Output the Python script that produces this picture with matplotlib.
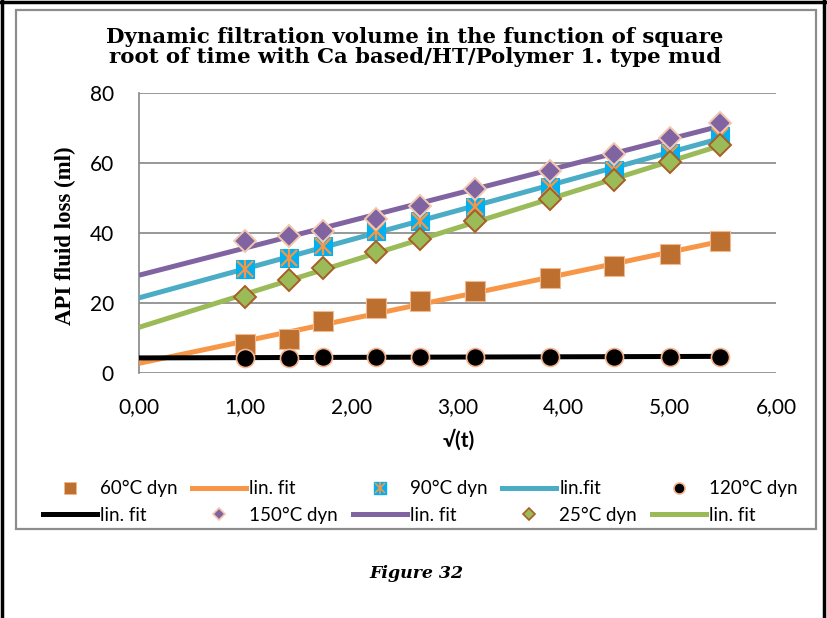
import numpy as np
import matplotlib
matplotlib.use("Agg")
import matplotlib.pyplot as plt
from matplotlib.lines import Line2D
from matplotlib.patches import Rectangle
from matplotlib.legend_handler import HandlerTuple

# ---------------- data ----------------
sqrt_t = [1.0, 1.414, 1.732, 2.236, 2.646, 3.162, 3.873, 4.472, 5.0, 5.477]
dyn_60 = [8.3, 9.7, 14.9, 18.5, 20.7, 23.3, 27.1, 30.7, 34.0, 37.6]
dyn_90 = [29.7, 33.0, 36.2, 40.7, 43.5, 47.5, 53.2, 58.0, 63.0, 67.8]
dyn_120 = [4.3, 4.4, 4.5, 4.5, 4.6, 4.6, 4.6, 4.7, 4.7, 4.7]
dyn_150 = [37.8, 39.2, 40.5, 44.0, 47.8, 52.6, 57.6, 62.7, 67.1, 71.4]
dyn_25 = [21.6, 26.7, 29.9, 34.5, 38.3, 43.5, 49.6, 55.2, 60.2, 65.1]
xticks = [0, 1, 2, 3, 4, 5, 6]
xtick_labels = ["0,00", "1,00", "2,00", "3,00", "4,00", "5,00", "6,00"]
yticks = [0, 20, 40, 60, 80]
title = "Dynamic filtration volume in the function of square\nroot of time with Ca based/HT/Polymer 1. type mud"
ylabel = "API fluid loss (ml)"
xlabel = "√(t)"
caption = "Figure 32"
labels = ["60°C dyn", "lin. fit", "90°C dyn", "lin.fit", "120°C dyn",
          "lin. fit", "150°C dyn", "lin. fit", "25°C dyn", "lin. fit"]

W, H = 827, 618
fig = plt.figure(figsize=(W / 100, H / 100), dpi=100)
ax = fig.add_axes([139 / W, 1 - 373 / H, (776 - 139) / W, (373 - 93) / H])

x = np.array(sqrt_t)
grid_c = "#868686"
lw_fit = 3.6

def fit_line(y, color):
    k, b = np.polyfit(x, np.array(y), 1)
    xx = np.array([0.0, x.max()])
    return ax.plot(xx, k * xx + b, color=color, lw=lw_fit, solid_capstyle="butt", zorder=3)[0]

# fits
fit_line(dyn_60, "#F79646")
fit_line(dyn_90, "#4BACC6")
fit_line(dyn_120, "#000000")
fit_line(dyn_150, "#8064A2")
fit_line(dyn_25, "#9BBB59")

# markers
ax.plot(x, dyn_60, ls="none", marker="s", ms=14.5, mfc="#BC6F2F", mec="#F2B98E", mew=0.8, zorder=5)
ax.plot(x, dyn_90, ls="none", marker="s", ms=13.5, mfc="#00B0F0", mec="#00B0F0", mew=0.8, zorder=6)
ax.plot(x, dyn_90, ls="none", marker="x", ms=12, mec="#F79646", mew=1.6, zorder=7)
ax.plot(x, dyn_90, ls="none", marker="|", ms=13.5, mec="#F79646", mew=1.6, zorder=7)
ax.plot(x, dyn_120, ls="none", marker="o", ms=13, mfc="#000000", mec="#F7B58E", mew=1.2, zorder=8)
ax.plot(x, dyn_150, ls="none", marker="D", ms=11, mfc="#8064A2", mec="#F4C7B0", mew=1.4, zorder=9)
ax.plot(x, dyn_25, ls="none", marker="D", ms=11, mfc="#9BBB59", mec="#A85E25", mew=1.4, zorder=10)

ax.set_xlim(0, 6)
ax.set_ylim(0, 80)
ax.set_xticks(xticks)
ax.set_xticklabels(xtick_labels)
ax.set_yticks(yticks)
ax.yaxis.grid(True, color=grid_c, lw=1.2)
ax.set_axisbelow(True)
for s in ["top", "right", "bottom"]:
    ax.spines[s].set_visible(False)
ax.spines["left"].set_color(grid_c)
ax.spines["left"].set_linewidth(1.2)
ax.tick_params(length=0, labelsize=15)
for lab in ax.get_xticklabels() + ax.get_yticklabels():
    lab.set_family(["Lato", "DejaVu Sans"])
ax.tick_params(axis="x", pad=17)
ax.tick_params(axis="y", pad=18)

# titles / labels
fig.text(415 / W, 1 - 47 / H, title, ha="center", va="center", family="DejaVu Serif",
         weight="bold", fontsize=15.3, linespacing=0.98)
fig.text(65 / W, 1 - 236 / H, ylabel, ha="center", va="center", rotation=90,
         family="Liberation Serif", weight="bold", fontsize=16.5)
fig.text(459 / W, 1 - 440 / H, xlabel, ha="center", va="center",
         family=["Lato", "DejaVu Sans"], weight="bold", fontsize=15)
fig.text(416 / W, 1 - 573 / H, caption, ha="center", va="center", family="DejaVu Serif",
         weight="bold", style="italic", fontsize=12.5)

# legend handles
h60 = Line2D([], [], ls="none", marker="s", ms=8, mfc="#BC6F2F", mec="#F2B98E", mew=0.6)
f60 = Line2D([], [], color="#F79646", lw=lw_fit)
h90 = (Line2D([], [], ls="none", marker="s", ms=8, mfc="#00B0F0", mec="#00B0F0"),
       Line2D([], [], ls="none", marker="x", ms=7, mec="#F79646", mew=1.2),
       Line2D([], [], ls="none", marker="|", ms=8, mec="#F79646", mew=1.2))
f90 = Line2D([], [], color="#4BACC6", lw=lw_fit)
h120 = Line2D([], [], ls="none", marker="o", ms=8, mfc="#000000", mec="#F7B58E", mew=1.2)
f120 = Line2D([], [], color="#000000", lw=lw_fit)
h150 = Line2D([], [], ls="none", marker="D", ms=6.5, mfc="#8064A2", mec="#F4C7B0", mew=1.2)
f150 = Line2D([], [], color="#8064A2", lw=lw_fit)
h25 = Line2D([], [], ls="none", marker="D", ms=6.5, mfc="#9BBB59", mec="#A85E25", mew=1.2)
f25 = Line2D([], [], color="#9BBB59", lw=lw_fit)
handles = [h60, f60, h90, f90, h120, f120, h150, f150, h25, f25]

# row-major -> column-major order for ncol=5
order = [0, 5, 1, 6, 2, 7, 3, 8, 4, 9]
leg = fig.legend([handles[i] for i in order], [labels[i] for i in order],
                 ncol=5, loc="center", bbox_to_anchor=(420 / W, 1 - 502 / H),
                 frameon=False, prop={"family": ["Lato", "DejaVu Sans"], "size": 13.5},
                 handlelength=2.9, handletextpad=0.15, columnspacing=0.78,
                 labelspacing=0.5, borderpad=0,
                 handler_map={tuple: HandlerTuple(ndivide=1, pad=0)})

# chart area border (gray) and outer page border (black)
fig.patches.append(Rectangle((16 / W, 1 - 529 / H), 800 / W, 519 / H, transform=fig.transFigure,
                             fill=False, ec="#8C8C8C", lw=1.6, zorder=0))
fig.lines.append(Line2D([2 / W, 2 / W], [0, 1], transform=fig.transFigure, color="black", lw=2.5))
fig.lines.append(Line2D([0, 1], [1 - 2 / H, 1 - 2 / H], transform=fig.transFigure, color="black", lw=2.5))
fig.lines.append(Line2D([824 / W, 824 / W], [0, 1], transform=fig.transFigure, color="black", lw=2.5))

fig.savefig("out.png", dpi=100)
